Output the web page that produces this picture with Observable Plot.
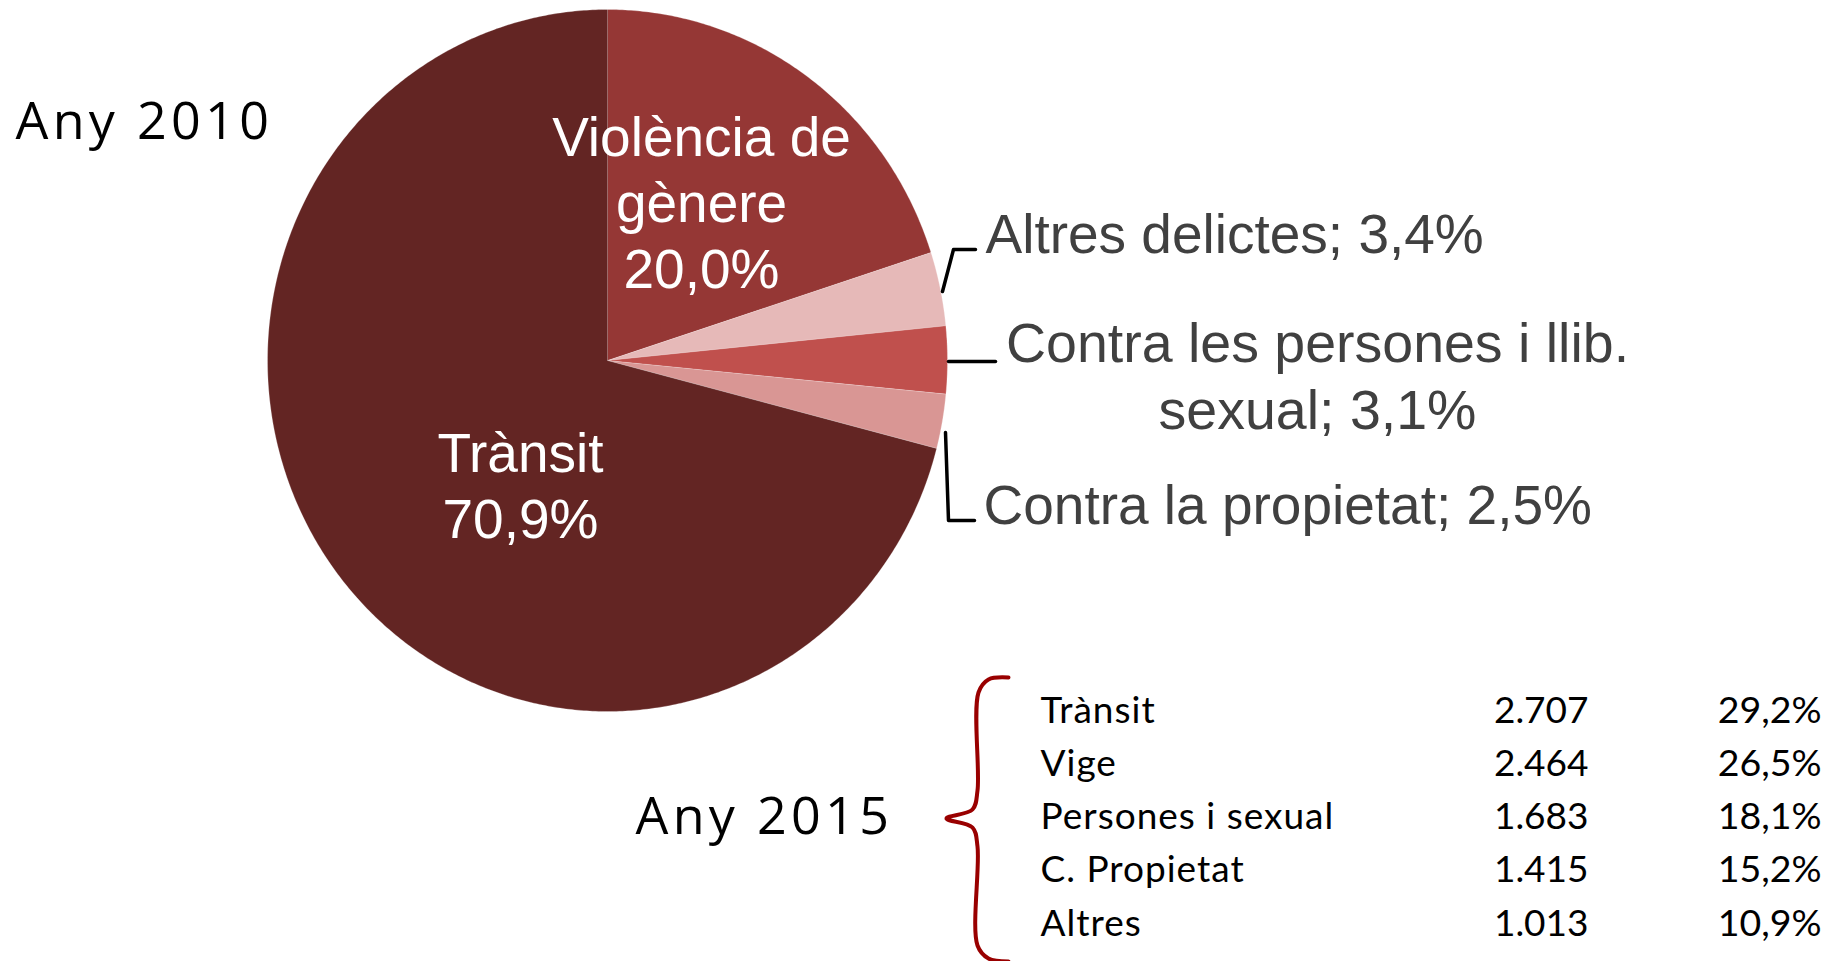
<!DOCTYPE html>
<html>
<head>
<meta charset="utf-8">
<script src="https://cdn.jsdelivr.net/npm/d3@7"></script>
<script src="https://cdn.jsdelivr.net/npm/@observablehq/plot@0.6"></script>
<style>
  html, body { margin: 0; padding: 0; background: #ffffff; }
  #chart svg { display: block; }
</style>
</head>
<body>
<div id="chart"></div>
<script>
// ---------- DATA ----------
const yearLabels = ["Any 2010", "Any 2015"];

// 2010 pie, clockwise from 12 o'clock
const categories2010 = ["Violència de\ngènere", "Altres delictes", "Contra les persones i llib.\nsexual", "Contra la propietat", "Trànsit"];
const shares2010 = [20.0, 3.4, 3.1, 2.5, 70.9];
const sliceColors = ["#953735", "#E6B9B8", "#C0504D", "#D99694", "#632523"];
const labelOutside = [false, true, true, true, false];

// 2015 table
const categories2015 = ["Trànsit", "Vige", "Persones i sexual", "C. Propietat", "Altres"];
const counts2015 = [2707, 2464, 1683, 1415, 1013];
const shares2015 = [29.2, 26.5, 18.1, 15.2, 10.9];

// ---------- LAYOUT ----------
const W = 1840, H = 961;
const pie = {cx: 607, cy: 360, rx: 340, ry: 351};
const labelPos = [
  {x: 701, y: 287, anchor: "middle"},
  {x: 985, y: 252, anchor: "start"},
  {x: 1317, y: 428, anchor: "middle"},
  {x: 983, y: 523, anchor: "start"},
  {x: 520, y: 537, anchor: "middle"}
];
const yearPos = [{x: 15, y: 138}, {x: 635, y: 833}];
const leaders = [
  [[942, 291], [953, 249], [975, 249]],
  [[948, 361], [995, 361]],
  [[945, 432], [948, 520], [974, 520]]
];
const braceShape = [[1008, 677], [988, 679], [978, 692], [977, 790], [972, 809], [946, 818], [972, 827], [977, 846], [977, 945], [988, 958], [1008, 961]];
const table = {top: 722, gap: 53.25, nameX: 1040, countX: 1588, shareX: 1821};

// ---------- HELPERS ----------
const loc = d3.formatLocale({decimal: ",", thousands: ".", grouping: [3], currency: ["", "€"]});
const fmtInt = loc.format(",d");
const fmtPct = v => loc.format(",.1f")(v) + "%";

// pie polygons built from the shares
const total = d3.sum(shares2010);
const piePts = [];
let acc = 0;
categories2010.forEach((c, i) => {
  const a0 = acc / total * 2 * Math.PI;
  acc += shares2010[i];
  const a1 = acc / total * 2 * Math.PI;
  piePts.push({cat: c, x: pie.cx, y: pie.cy});
  const n = Math.max(2, Math.ceil((a1 - a0) / (Math.PI / 360)));
  for (let k = 0; k <= n; k++) {
    const a = a0 + (a1 - a0) * k / n;
    piePts.push({cat: c, x: pie.cx + pie.rx * Math.sin(a), y: pie.cy - pie.ry * Math.cos(a)});
  }
});

const labels2010 = categories2010.map((c, i) => ({
  text: labelOutside[i] ? c + "; " + fmtPct(shares2010[i]) : c + "\n" + fmtPct(shares2010[i]),
  x: labelPos[i].x, y: labelPos[i].y, anchor: labelPos[i].anchor, outside: labelOutside[i]
}));

const leaderPts = leaders.flatMap((pts, id) => pts.map(([x, y]) => ({id, x, y})));
const bracePts = braceShape.map(([x, y]) => ({x, y}));
const yearData = yearLabels.map((t, i) => ({text: t, x: yearPos[i].x, y: yearPos[i].y}));
const rows = categories2015.map((c, i) => ({
  name: c, count: fmtInt(counts2015[i]), share: fmtPct(shares2015[i]),
  y: table.top + i * table.gap
}));

const arial = "'Liberation Sans', Arial, sans-serif";

const chart = Plot.plot({
  width: W,
  height: H,
  margin: 0,
  style: {background: "#ffffff"},
  x: {domain: [0, W], range: [0, W], axis: null},
  y: {domain: [0, H], range: [0, H], axis: null},
  color: {domain: categories2010, range: sliceColors},
  marks: [
    Plot.line(piePts, {x: "x", y: "y", z: "cat", fill: "cat", stroke: "#ffffff", strokeOpacity: 0.25, strokeWidth: 1, curve: "linear"}),
    Plot.text(labels2010.filter(d => !d.outside), {
      x: "x", y: "y", text: "text", textAnchor: "middle", lineAnchor: "bottom",
      lineHeight: 1.2, fontSize: 55, fontFamily: arial, fill: "#ffffff"
    }),
    Plot.text(labels2010.filter(d => d.outside && d.anchor === "start"), {
      x: "x", y: "y", text: "text", textAnchor: "start", lineAnchor: "bottom",
      lineHeight: 1.2, fontSize: 55, fontFamily: arial, fill: "#404040"
    }),
    Plot.text(labels2010.filter(d => d.outside && d.anchor === "middle"), {
      x: "x", y: "y", text: "text", textAnchor: "middle", lineAnchor: "bottom",
      lineHeight: 1.2, fontSize: 55.5, fontFamily: arial, fill: "#404040"
    }),
    Plot.line(leaderPts, {x: "x", y: "y", z: "id", stroke: "#000000", strokeWidth: 3.5, curve: "linear"}),
    Plot.text(yearData, {
      x: "x", y: "y", text: "text", textAnchor: "start", lineAnchor: "bottom",
      fontSize: 52, fontFamily: "'Open Sans', sans-serif", fill: "#000000"
    }),
    Plot.line(bracePts, {x: "x", y: "y", stroke: "#990000", strokeWidth: 4, curve: "catmull-rom"}),
    Plot.text(rows, {x: () => table.nameX, y: "y", text: "name", textAnchor: "start", lineAnchor: "bottom",
      fontSize: 37, fontFamily: "Lato, sans-serif", fill: "#000000"}),
    Plot.text(rows, {x: () => table.countX, y: "y", text: "count", textAnchor: "end", lineAnchor: "bottom",
      fontSize: 37, fontFamily: "Lato, sans-serif", fill: "#000000"}),
    Plot.text(rows, {x: () => table.shareX, y: "y", text: "share", textAnchor: "end", lineAnchor: "bottom",
      fontSize: 37.5, fontFamily: "Lato, sans-serif", fill: "#000000"})
  ]
});

// typographic tweaks: wider tracking for the year labels and the table row names
d3.select(chart).selectAll("text")
  .filter(function () { return yearLabels.includes(this.textContent); })
  .style("letter-spacing", "4.3px");
d3.select(chart).selectAll("text")
  .filter(function () { return categories2015.includes(this.textContent); })
  .style("letter-spacing", "1px");
document.getElementById("chart").appendChild(chart);
</script>
</body>
</html>
